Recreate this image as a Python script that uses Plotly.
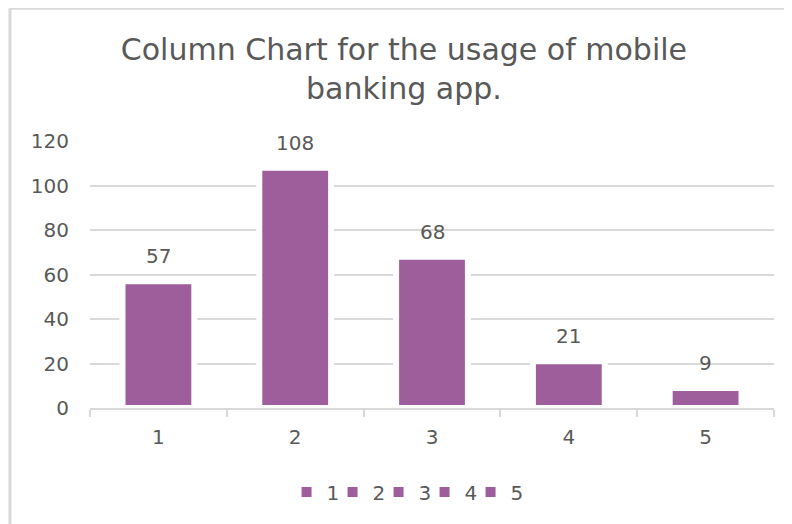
import plotly.graph_objects as go

categories = ["1", "2", "3", "4", "5"]
values = [57, 108, 68, 21, 9]
y_ticks = [0, 20, 40, 60, 80, 100, 120]
title_text = "Column Chart for the usage of mobile<br>banking app."

BAR = "#9E5E9B"
TXT = "#595959"
GRID = "#D9D9D9"
FONT = "DejaVu Sans"

fig = go.Figure()
n = len(categories)
for k, (c, v) in enumerate(zip(categories, values)):
    fig.add_trace(go.Bar(
        x=[c], y=[v], name=c, width=0.525,
        marker=dict(color=BAR, line=dict(color="white", width=6)),
        legendwidth=(14 if k == n - 1 else 1),
        hoverinfo="x+y",
    ))

for i, v in enumerate(values):
    fig.add_annotation(x=i, y=v, text=str(v), showarrow=False,
                       yanchor="bottom", yshift=11,
                       font=dict(family=FONT, size=20, color=TXT))

fig.update_layout(
    width=784, height=516,
    margin=dict(l=82, r=18, t=133, b=116),
    paper_bgcolor="white", plot_bgcolor="white",
    barmode="overlay",
    font=dict(family=FONT, color=TXT),
    title=dict(text=title_text, x=0.505, xanchor="center", y=0.9, yanchor="top",
               xref="container", yref="container",
               font=dict(family=FONT, size=30, color=TXT)),
    showlegend=True,
    legend=dict(orientation="h", x=0.465, xanchor="center", y=-0.315, yanchor="middle",
                font=dict(family=FONT, size=20, color=TXT),
                entrywidthmode="pixels", itemsizing="constant",
                bgcolor="rgba(255,255,255,0)"),
    xaxis=dict(type="category", categoryorder="array", categoryarray=categories,
               showgrid=False, showline=True, linecolor=GRID, linewidth=2,
               ticks="outside", tickson="boundaries", tickcolor=GRID, ticklen=7, tickwidth=2,
               tickfont=dict(family=FONT, size=20, color=TXT), range=[-0.5, 4.5],
               ticklabelstandoff=10),
    yaxis=dict(range=[0, 120], tickvals=y_ticks, showgrid=True, gridcolor=GRID, gridwidth=2,
               showline=False, zeroline=False, ticks="",
               tickfont=dict(family=FONT, size=20, color=TXT), ticklabelstandoff=20),
    shapes=[
        dict(type="line", xref="paper", yref="paper", x0=-0.117, x1=-0.117, y0=-0.6, y1=1.497,
             line=dict(color=GRID, width=3)),
        dict(type="line", xref="paper", yref="paper", x0=-0.117, x1=1.2, y0=1.497, y1=1.497,
             line=dict(color=GRID, width=3)),
    ],
)

fig.write_html("out.html")
